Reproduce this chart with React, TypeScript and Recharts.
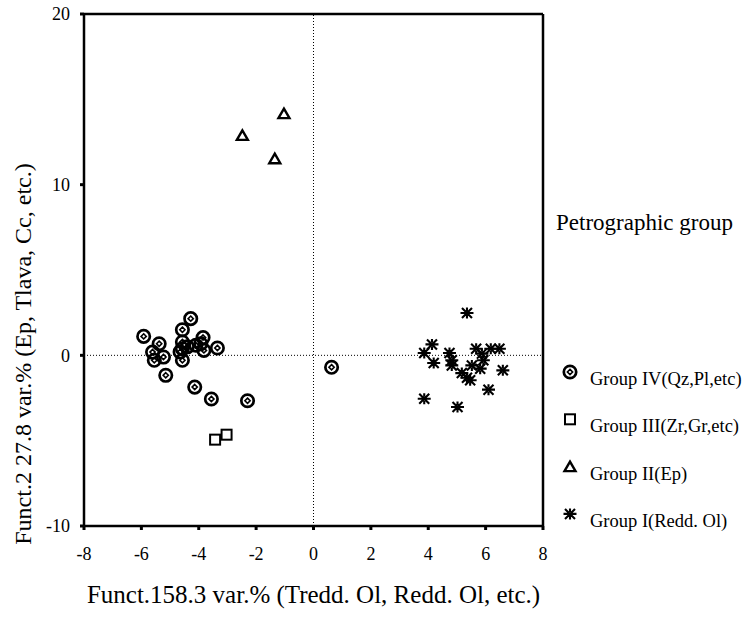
import {
  Legend,
  ReferenceLine,
  Scatter,
  ScatterChart,
  XAxis,
  YAxis,
  Label,
} from 'recharts';

// Group IV (Qz, Pl, etc)
const group4X = [-5.92, -4.28, -4.57, -3.85, -3.35, -5.38, -5.61, -5.23, -5.55, -4.57, -4.57, -4.57, -4.1, -3.82, -3.93, -5.15, -4.14, -3.56, -2.3, 0.63, -4.65, -4.4];
const group4Y = [1.11, 2.15, 1.5, 1.04, 0.43, 0.68, 0.19, -0.1, -0.29, -0.29, 0.78, 0.39, 0.59, 0.29, 0.68, -1.17, -1.86, -2.56, -2.66, -0.7, 0.2, 0.5];

// Group III (Zr, Gr, etc)
const group3X = [-3.43, -3.03];
const group3Y = [-4.94, -4.65];

// Group II (Ep)
const group2X = [-1.03, -2.48, -1.35];
const group2Y = [14.16, 12.89, 11.52];

// Group I (Redd. Ol)
const group1X = [5.35, 4.13, 3.86, 4.19, 4.74, 4.82, 4.82, 5.67, 5.87, 5.92, 6.18, 6.48, 5.52, 5.81, 5.17, 5.35, 5.46, 6.6, 6.1, 3.86, 5.02];
const group1Y = [2.48, 0.64, 0.14, -0.45, 0.14, -0.29, -0.59, 0.39, 0.1, -0.29, 0.39, 0.39, -0.59, -0.78, -1.04, -1.31, -1.46, -0.88, -2.01, -2.54, -3.03];

const xTicks = [-8, -6, -4, -2, 0, 2, 4, 6, 8];
const yTicks = [-10, 0, 10, 20];

const legendTitle = 'Petrographic group';
const legendNames = ['Group IV(Qz,Pl,etc)', 'Group III(Zr,Gr,etc)', 'Group II(Ep)', 'Group I(Redd. Ol)'];

const xTitle = 'Funct.158.3 var.% (Tredd. Ol, Redd. Ol, etc.)';
const yTitle = 'Funct.2 27.8 var.% (Ep, Tlava, Cc, etc.)';

const toPoints = (xs: number[], ys: number[]) => xs.map((x, i) => ({ x, y: ys[i] }));

const FONT = '"Liberation Serif", "DejaVu Serif", serif';

const circleMark = (cx: number, cy: number, key?: string) => (
  <g key={key}>
    <circle cx={cx} cy={cy} r={6.2} fill="none" stroke="#000" strokeWidth={2.7} />
    <path
      d={`M${cx},${cy - 2.6} L${cx + 2.6},${cy} L${cx},${cy + 2.6} L${cx - 2.6},${cy} Z`}
      fill="none"
      stroke="#000"
      strokeWidth={1.6}
    />
  </g>
);

const squareMark = (cx: number, cy: number, key?: string) => (
  <rect key={key} x={cx - 5} y={cy - 5} width={10} height={10} fill="none" stroke="#000" strokeWidth={2} />
);

const triangleMark = (cx: number, cy: number, key?: string) => (
  <path
    key={key}
    d={`M${cx},${cy - 5} L${cx + 5.5},${cy + 4.5} L${cx - 5.5},${cy + 4.5} Z`}
    fill="none"
    stroke="#000"
    strokeWidth={2.4}
  />
);

const starMark = (cx: number, cy: number, key?: string) => (
  <path
    key={key}
    d={`M${cx - 6.5},${cy} L${cx + 6.5},${cy} M${cx - 5},${cy - 5} L${cx + 5},${cy + 5} M${cx + 5},${cy - 5} L${cx - 5},${cy + 5} M${cx},${cy - 5.5} L${cx},${cy - 2} M${cx},${cy + 2} L${cx},${cy + 5.5}`}
    fill="none"
    stroke="#000"
    strokeWidth={2.1}
  />
);

const markers = [circleMark, squareMark, triangleMark, starMark];

const shapeOf = (mark: (cx: number, cy: number) => any) => (props: any) => mark(props.cx, props.cy);

const renderLegend = () => (
  <svg width={192} height={340} style={{ display: 'block' }}>
    <text x={6} y={36} fontFamily={FONT} fontSize={23} fill="#000">
      {legendTitle}
    </text>
    {legendNames.map((name, i) => {
      const cy = 185 + i * 47.3;
      return (
        <g key={name}>
          {markers[i](20, cy - 7, `m${i}`)}
          <text x={40} y={cy + 6} fontFamily={FONT} fontSize={18.5} fill="#000">
            {name}
          </text>
        </g>
      );
    })}
  </svg>
);

const renderYTitle = (props: any) => {
  const vb = props.viewBox || { x: 0, y: 0, height: 0 };
  const cx = 31;
  const cy = vb.y + vb.height * (340 / 512);
  return (
    <text
      x={cx}
      y={cy}
      transform={`rotate(-90, ${cx}, ${cy})`}
      textAnchor="middle"
      fontFamily={FONT}
      fontSize={24}
      fill="#000"
    >
      {yTitle}
    </text>
  );
};

const tickStyle = { fontFamily: FONT, fontSize: 18, fill: '#000' };

export default function App() {
  return (
    <div style={{ position: 'absolute', left: 0, top: 0, background: '#fff' }}>
      <ScatterChart
        width={742}
        height={622}
        margin={{ top: 14, right: 199, bottom: 0, left: 0 }}
      >
        <XAxis
          type="number"
          dataKey="x"
          domain={[-8, 8]}
          ticks={xTicks}
          allowDataOverflow
          height={96}
          axisLine={{ stroke: '#000', strokeWidth: 2.5 }}
          tickLine={{ stroke: '#000', strokeWidth: 3 }}
          tickSize={4}
          tickMargin={17}
          tick={tickStyle}
        >
          <Label
            value={xTitle}
            position="insideBottom"
            offset={19}
            style={{ fontFamily: FONT, fontSize: 25, fill: '#000' }}
          />
        </XAxis>
        <YAxis
          type="number"
          dataKey="y"
          domain={[-10, 20]}
          ticks={yTicks}
          allowDataOverflow
          width={84}
          axisLine={{ stroke: '#000', strokeWidth: 2.5 }}
          tickLine={{ stroke: '#000', strokeWidth: 3 }}
          tickSize={4}
          tickMargin={10}
          tick={tickStyle}
        >
          <Label content={renderYTitle} />
        </YAxis>
        <ReferenceLine y={20} stroke="#000" strokeWidth={2.5} />
        <ReferenceLine x={8} stroke="#000" strokeWidth={2.5} />
        <ReferenceLine y={0} stroke="#000" strokeWidth={1} strokeDasharray="1 2" />
        <ReferenceLine x={0} stroke="#000" strokeWidth={1} strokeDasharray="1 2" />
        <Legend
          layout="vertical"
          align="center"
          verticalAlign="middle"
          content={renderLegend}
          wrapperStyle={{ left: 550, top: 194, width: 192 }}
        />
        <Scatter name={legendNames[0]} data={toPoints(group4X, group4Y)} shape={shapeOf(circleMark)} isAnimationActive={false} />
        <Scatter name={legendNames[1]} data={toPoints(group3X, group3Y)} shape={shapeOf(squareMark)} isAnimationActive={false} />
        <Scatter name={legendNames[2]} data={toPoints(group2X, group2Y)} shape={shapeOf(triangleMark)} isAnimationActive={false} />
        <Scatter name={legendNames[3]} data={toPoints(group1X, group1Y)} shape={shapeOf(starMark)} isAnimationActive={false} />
      </ScatterChart>
    </div>
  );
}
